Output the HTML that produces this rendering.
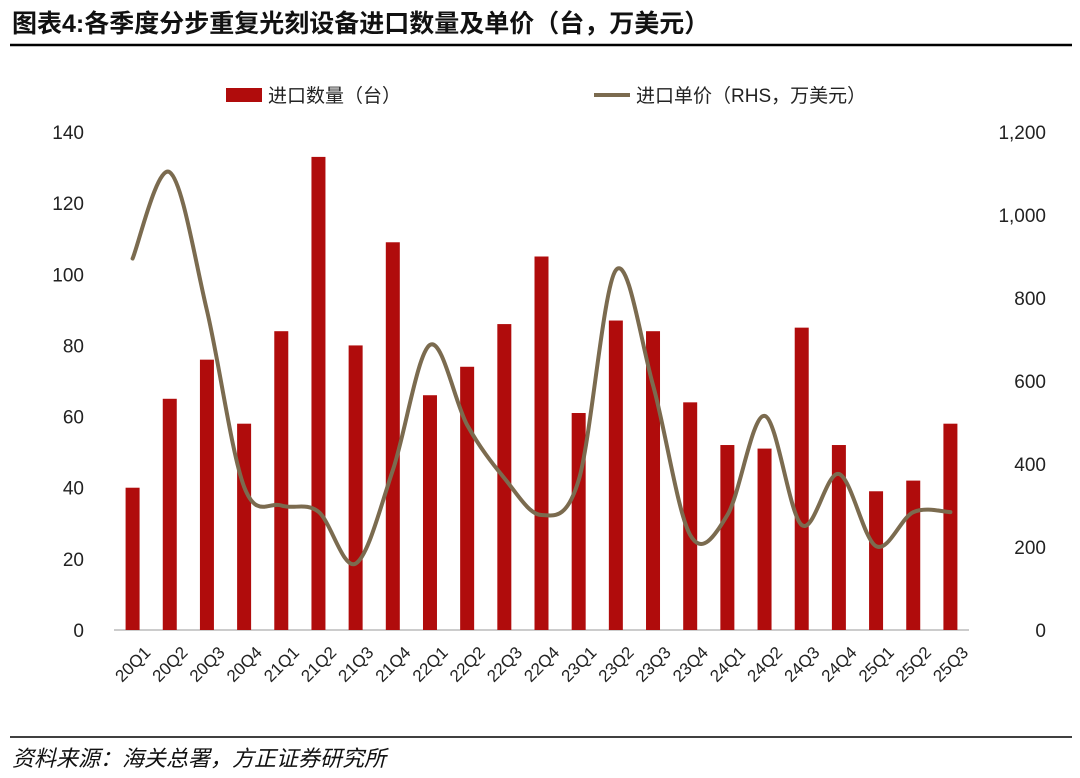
<!DOCTYPE html>
<html><head><meta charset="utf-8"><style>
body{margin:0;background:#fff;}
svg text{font-family:"Liberation Sans","Noto Sans CJK SC",sans-serif;}
</style></head><body>
<svg width="1080" height="773" xmlns="http://www.w3.org/2000/svg">
<text x="12" y="32" font-size="25" font-weight="bold" fill="#111">图表4:各季度分步重复光刻设备进口数量及单价（台，万美元）</text>
<line x1="10" y1="45" x2="1072" y2="45" stroke="#000" stroke-width="2.5"/>
<line x1="10" y1="737" x2="1072" y2="737" stroke="#000" stroke-width="1.5"/>
<text x="12" y="766" font-size="22" font-style="italic" fill="#111">资料来源：海关总署，方正证券研究所</text>
<g>
<rect x="226" y="88" width="36" height="14" fill="#B00C0C"/>
<text x="268" y="102" font-size="19" fill="#222">进口数量（台）</text>
<line x1="594" y1="95" x2="630" y2="95" stroke="#7B6B4F" stroke-width="4"/>
<text x="636" y="102" font-size="19" fill="#222">进口单价（RHS，万美元）</text>
</g>
<g id="plot"></g>
</svg>
<script>
const categories=["20Q1","20Q2","20Q3","20Q4","21Q1","21Q2","21Q3","21Q4","22Q1","22Q2","22Q3","22Q4","23Q1","23Q2","23Q3","23Q4","24Q1","24Q2","24Q3","24Q4","25Q1","25Q2","25Q3"];
const quantity=[40,65,76,58,84,133,80,109,66,74,86,105,61,87,84,64,52,51,85,52,39,42,58];
const unitPrice=[895,1103,770,345,300,285,160,385,687,494,366,277,361,867,590,229,277,516,253,376,202,284,284];
const leftTicks=[0,20,40,60,80,100,120,140];
const rightTicks=[0,200,400,600,800,1000,1200];
const rightTickLabels=["0","200","400","600","800","1,000","1,200"];
const NS="http://www.w3.org/2000/svg";
const g=document.getElementById('plot');
const x0=114,x1=969,y0=630,yTop=132;
const step=(x1-x0)/categories.length;
const xc=i=>x0+step*(i+0.5);
const yL=v=>y0-(v/140)*(y0-yTop);
const yR=v=>y0-(v/1200)*(y0-yTop);
function mk(t,a){const e=document.createElementNS(NS,t);for(const k in a)e.setAttribute(k,a[k]);g.appendChild(e);return e;}
const ax=mk('line',{x1:x0,y1:y0,x2:x1,y2:y0,stroke:'#999','stroke-width':1});


leftTicks.forEach(v=>{const t=mk('text',{x:84,y:yL(v)+7,'font-size':19,'text-anchor':'end',fill:'#222'});t.textContent=v;

});
rightTicks.forEach((v,i)=>{const t=mk('text',{x:1046,y:yR(v)+7,'font-size':19,'text-anchor':'end',fill:'#222'});t.textContent=rightTickLabels[i];

});
quantity.forEach((v,i)=>{const r=mk('rect',{x:xc(i)-7,y:yL(v),width:14,height:y0-yL(v),fill:'#B00C0C'});

});
categories.forEach((c,i)=>{const cx=xc(i),cy=664;const t=mk('text',{x:cx,y:cy,'font-size':17,'text-anchor':'middle',fill:'#222',transform:`rotate(-45 ${cx} ${cy})`,dy:6});t.textContent=c;

});
const pts=unitPrice.map((v,i)=>[xc(i),yR(v)]);
let d=`M${pts[0][0]},${pts[0][1]}`;
for(let i=0;i<pts.length-1;i++){const p0=pts[i-1]||pts[i],p1=pts[i],p2=pts[i+1],p3=pts[i+2]||p2;
d+=` C${p1[0]+(p2[0]-p0[0])/6},${p1[1]+(p2[1]-p0[1])/6} ${p2[0]-(p3[0]-p1[0])/6},${p2[1]-(p3[1]-p1[1])/6} ${p2[0]},${p2[1]}`;}
const ln=mk('path',{d:d,fill:'none',stroke:'#7B6B4F','stroke-width':4,'stroke-linecap':'round'});


</script>
</body></html>
